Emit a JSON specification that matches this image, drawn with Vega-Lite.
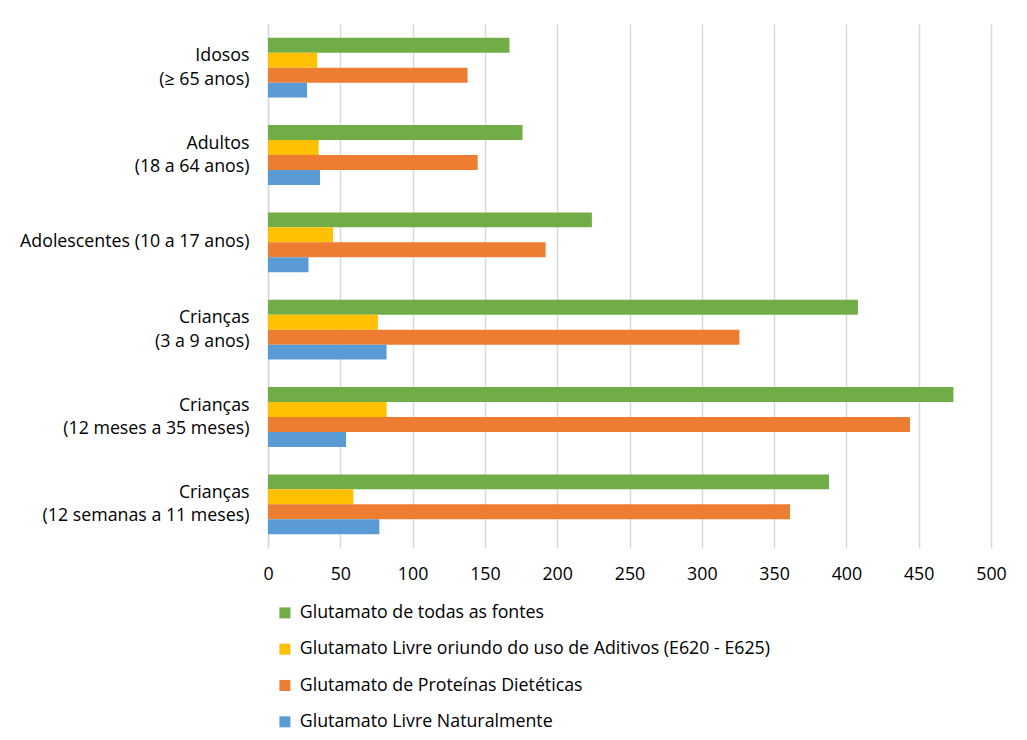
{
  "$schema": "https://vega.github.io/schema/vega-lite/v6.json",
  "autosize": {"type": "none"},
  "width": 723,
  "height": 524,
  "padding": {"left": 268, "top": 24, "right": 36, "bottom": 192},
  "background": "white",
  "config": {
    "font": "Open Sans",
    "view": {"stroke": null}
  },
  "data": {
    "values": [
      {"grupo": "Idosos|(≥ 65 anos)", "serie": "Glutamato de todas as fontes", "valor": 167},
      {"grupo": "Idosos|(≥ 65 anos)", "serie": "Glutamato Livre oriundo do uso de Aditivos (E620 - E625)", "valor": 34},
      {"grupo": "Idosos|(≥ 65 anos)", "serie": "Glutamato de Proteínas Dietéticas", "valor": 138},
      {"grupo": "Idosos|(≥ 65 anos)", "serie": "Glutamato Livre Naturalmente", "valor": 27},
      {"grupo": "Adultos|(18 a 64 anos)", "serie": "Glutamato de todas as fontes", "valor": 176},
      {"grupo": "Adultos|(18 a 64 anos)", "serie": "Glutamato Livre oriundo do uso de Aditivos (E620 - E625)", "valor": 35},
      {"grupo": "Adultos|(18 a 64 anos)", "serie": "Glutamato de Proteínas Dietéticas", "valor": 145},
      {"grupo": "Adultos|(18 a 64 anos)", "serie": "Glutamato Livre Naturalmente", "valor": 36},
      {"grupo": "Adolescentes (10 a 17 anos)", "serie": "Glutamato de todas as fontes", "valor": 224},
      {"grupo": "Adolescentes (10 a 17 anos)", "serie": "Glutamato Livre oriundo do uso de Aditivos (E620 - E625)", "valor": 45},
      {"grupo": "Adolescentes (10 a 17 anos)", "serie": "Glutamato de Proteínas Dietéticas", "valor": 192},
      {"grupo": "Adolescentes (10 a 17 anos)", "serie": "Glutamato Livre Naturalmente", "valor": 28},
      {"grupo": "Crianças|(3 a 9 anos)", "serie": "Glutamato de todas as fontes", "valor": 408},
      {"grupo": "Crianças|(3 a 9 anos)", "serie": "Glutamato Livre oriundo do uso de Aditivos (E620 - E625)", "valor": 76},
      {"grupo": "Crianças|(3 a 9 anos)", "serie": "Glutamato de Proteínas Dietéticas", "valor": 326},
      {"grupo": "Crianças|(3 a 9 anos)", "serie": "Glutamato Livre Naturalmente", "valor": 82},
      {"grupo": "Crianças|(12 meses a 35 meses)", "serie": "Glutamato de todas as fontes", "valor": 474},
      {"grupo": "Crianças|(12 meses a 35 meses)", "serie": "Glutamato Livre oriundo do uso de Aditivos (E620 - E625)", "valor": 82},
      {"grupo": "Crianças|(12 meses a 35 meses)", "serie": "Glutamato de Proteínas Dietéticas", "valor": 444},
      {"grupo": "Crianças|(12 meses a 35 meses)", "serie": "Glutamato Livre Naturalmente", "valor": 54},
      {"grupo": "Crianças|(12 semanas a 11 meses)", "serie": "Glutamato de todas as fontes", "valor": 388},
      {"grupo": "Crianças|(12 semanas a 11 meses)", "serie": "Glutamato Livre oriundo do uso de Aditivos (E620 - E625)", "valor": 59},
      {"grupo": "Crianças|(12 semanas a 11 meses)", "serie": "Glutamato de Proteínas Dietéticas", "valor": 361},
      {"grupo": "Crianças|(12 semanas a 11 meses)", "serie": "Glutamato Livre Naturalmente", "valor": 77}
    ]
  },
  "mark": {"type": "bar"},
  "encoding": {
    "y": {
      "field": "grupo",
      "type": "nominal",
      "sort": ["Idosos|(≥ 65 anos)", "Adultos|(18 a 64 anos)", "Adolescentes (10 a 17 anos)", "Crianças|(3 a 9 anos)", "Crianças|(12 meses a 35 meses)", "Crianças|(12 semanas a 11 meses)"],
      "scale": {"paddingInner": 0.314, "paddingOuter": 0.157},
      "axis": {
        "title": null,
        "labelExpr": "split(datum.label, '|')",
        "labelFontSize": 17.8,
        "labelColor": "#000000",
        "labelPadding": 19,
        "labelLineHeight": 23.5,
        "labelLimit": 400,
        "labelOffset": {"condition": {"test": "indexof(datum.value, '|') >= 0", "value": -11.5}, "value": 0},
        "ticks": false,
        "domain": true,
        "domainColor": "#d9d9d9",
        "domainWidth": 1.5
      }
    },
    "yOffset": {
      "field": "serie",
      "type": "nominal",
      "sort": ["Glutamato de todas as fontes", "Glutamato Livre oriundo do uso de Aditivos (E620 - E625)", "Glutamato de Proteínas Dietéticas", "Glutamato Livre Naturalmente"],
      "scale": {"paddingInner": 0, "paddingOuter": 0}
    },
    "x": {
      "field": "valor",
      "type": "quantitative",
      "scale": {"domain": [0, 500], "nice": false},
      "axis": {
        "title": null,
        "values": [0, 50, 100, 150, 200, 250, 300, 350, 400, 450, 500],
        "labelFontSize": 17.8,
        "labelColor": "#000000",
        "labelPadding": 17,
        "labelFlush": false,
        "ticks": false,
        "domain": false,
        "grid": true,
        "gridColor": "#d9d9d9",
        "gridWidth": 1.5
      }
    },
    "color": {
      "field": "serie",
      "type": "nominal",
      "sort": ["Glutamato de todas as fontes", "Glutamato Livre oriundo do uso de Aditivos (E620 - E625)", "Glutamato de Proteínas Dietéticas", "Glutamato Livre Naturalmente"],
      "scale": {"range": ["#70AD47", "#FFC000", "#ED7D31", "#5B9BD5"]},
      "legend": {
        "title": null,
        "orient": "none",
        "legendX": 8,
        "legendY": 580,
        "direction": "vertical",
        "symbolType": "square",
        "symbolSize": 121,
        "symbolStrokeWidth": 0,
        "symbolOpacity": 1,
        "labelFontSize": 17.8,
        "labelColor": "#000000",
        "labelOffset": 6,
        "labelLimit": 600,
        "rowPadding": 17.3
      }
    }
  }
}
